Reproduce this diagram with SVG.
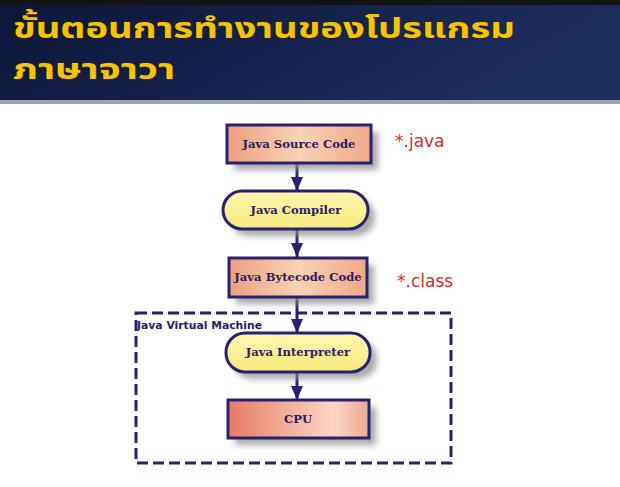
<svg xmlns="http://www.w3.org/2000/svg" width="620" height="487" viewBox="0 0 620 487">
<defs>
<linearGradient id="hdr" x1="0" y1="0" x2="1" y2="0.3">
<stop offset="0" stop-color="#0c1638"/>
<stop offset="0.6" stop-color="#16234f"/>
<stop offset="1" stop-color="#1d2d5c"/>
</linearGradient>
<linearGradient id="peach" x1="0" y1="0" x2="1" y2="0">
<stop offset="0" stop-color="#ec9f80"/>
<stop offset="0.5" stop-color="#f9d2b4"/>
<stop offset="1" stop-color="#efa888"/>
</linearGradient>
<linearGradient id="salmon" x1="0" y1="0" x2="1" y2="0">
<stop offset="0" stop-color="#e67c64"/>
<stop offset="0.75" stop-color="#fbd6c6"/>
<stop offset="1" stop-color="#f1a690"/>
</linearGradient>
<linearGradient id="yellow" x1="0" y1="0" x2="0" y2="1">
<stop offset="0" stop-color="#fdf7b0"/>
<stop offset="1" stop-color="#f6ea7c"/>
</linearGradient>
<filter id="sh" x="-20%" y="-30%" width="150%" height="170%">
<feGaussianBlur stdDeviation="3"/>
</filter>
<marker id="ah" viewBox="0 0 14 12" refX="14" refY="6" markerWidth="14" markerHeight="12" markerUnits="userSpaceOnUse" orient="auto">
<path d="M0,0 L14,6 L0,12 Z" fill="#2a206e"/>
</marker>
<style>
.box{stroke:#2a206e;stroke-width:3}
.shadow{fill:#8c8c8c;opacity:0.75;filter:url(#sh)}
.lbl{font-family:"DejaVu Serif",serif;font-weight:bold;font-size:11.6px;fill:#2a2060;text-anchor:middle}
.ext{font-family:"DejaVu Sans",Verdana,sans-serif;font-size:17px;fill:#d42a2a}
.conn{stroke:#2a206e;stroke-width:3;fill:none;marker-end:url(#ah)}
.title{font-family:"Noto Sans Thai","Noto Sans","DejaVu Sans",sans-serif;font-weight:bold;font-size:29px;fill:#f4c40c;stroke:#3a2a00;stroke-width:1;paint-order:stroke}
</style>
</defs>
<rect x="0" y="0" width="620" height="487" fill="#ffffff"/>
<g id="header">
<rect x="0" y="0" width="620" height="101" fill="url(#hdr)"/>
<rect x="0" y="0" width="620" height="5" fill="#141414"/>
<rect x="0" y="100" width="620" height="4" fill="#9aa2b4"/>
<text class="title" x="13" y="38" textLength="502" lengthAdjust="spacingAndGlyphs">ขั้นตอนการทำงานของโปรแกรม</text>
<text class="title" x="13" y="79" textLength="162" lengthAdjust="spacingAndGlyphs">ภาษาจาวา</text>
</g>
<g id="jvm">
<rect x="136" y="313" width="315" height="150" fill="none" stroke="#2a206e" stroke-width="3" stroke-dasharray="11,5"/>
<text x="137" y="329" font-family="DejaVu Sans,Verdana,sans-serif" font-weight="bold" font-size="10.8px" fill="#2a2060">Java Virtual Machine</text>
</g>
<g id="connectors">
<line class="conn" x1="297" y1="164" x2="297" y2="191"/>
<line class="conn" x1="297" y1="230" x2="297" y2="257"/>
<line class="conn" x1="297" y1="298" x2="297" y2="333"/>
<line class="conn" x1="297" y1="373" x2="297" y2="400"/>
</g>
<g id="source">
<rect class="shadow" x="234" y="132" width="144" height="38"/>
<rect class="box" x="227" y="125" width="144" height="38" fill="url(#peach)"/>
<text class="lbl" x="299" y="148">Java Source Code</text>
</g>
<g id="compiler">
<rect class="shadow" x="230" y="198" width="145" height="38" rx="19"/>
<rect class="box" x="223" y="191" width="145" height="38" rx="19" fill="url(#yellow)"/>
<text class="lbl" x="296" y="214">Java Compiler</text>
</g>
<g id="bytecode">
<rect class="shadow" x="236" y="265" width="138" height="39"/>
<rect class="box" x="229" y="258" width="138" height="39" fill="url(#peach)"/>
<text class="lbl" x="298" y="281">Java Bytecode Code</text>
</g>
<g id="interpreter">
<rect class="shadow" x="233" y="340" width="144" height="39" rx="19"/>
<rect class="box" x="226" y="333" width="144" height="39" rx="19" fill="url(#yellow)"/>
<text class="lbl" x="298" y="356">Java Interpreter</text>
</g>
<g id="cpu">
<rect class="shadow" x="235" y="407" width="141" height="38"/>
<rect class="box" x="228" y="400" width="141" height="38" fill="url(#salmon)"/>
<text class="lbl" x="298" y="423">CPU</text>
</g>
<text class="ext" x="395" y="147">*.java</text>
<text class="ext" x="397" y="287">*.class</text>
</svg>
